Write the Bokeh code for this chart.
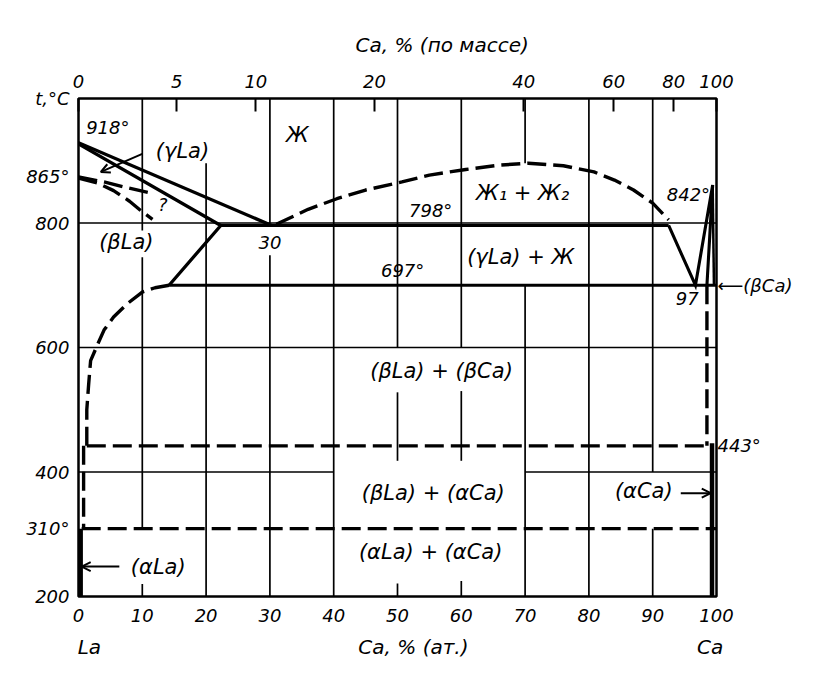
from bokeh.plotting import figure
from bokeh.models import (FixedTicker, LinearAxis, Range1d, Arrow, OpenHead)
from bokeh.core.properties import value
from bokeh.embed import file_html
from bokeh.resources import INLINE

FONT = "DejaVu Sans"

# ---------------- axis ticks ----------------
bottom_ticks = [0, 10, 20, 30, 40, 50, 60, 70, 80, 90, 100]
bottom_labels = ["0", "10", "20", "30", "40", "50", "60", "70", "80", "90", "100"]
bottom_row2_pos = [1.7, 52.5, 99]
bottom_row2_labels = ["La", "Ca, % (ат.)", "Ca"]
top_ticks = [0, 15.4, 27.8, 46.4, 69.8, 83.9, 93.3, 100]      # at.% of wt.% marks
top_labels = ["0", "5", "10", "20", "40", "60", "80", "100"]
top_row2_pos = [57]
top_row2_labels = ["Ca, % (по массе)"]
left_ticks = [200, 309, 400, 600, 800, 874, 1000]
left_labels = ["200", "310°", "400", "600", "800", "865°", "t,°C"]
right_ticks = [442, 700]
right_labels = ["443°", "⟵(βCa)"]

# ---------------- grid fragments (as drawn) ----------------
gv_x = [10, 10, 10, 20, 30, 30, 40, 50, 50, 50, 60, 60, 60, 70, 70, 80, 90, 90]
gv_t0 = [1000, 745, 220, 896, 1000, 748, 1000, 1000, 528, 221, 1000, 530, 225, 1000, 700, 1000, 1000, 309]
gv_t1 = [788, 309, 200, 200, 800, 200, 200, 600, 418, 200, 600, 418, 200, 896, 200, 200, 400, 200]
gh_t = [800, 600, 400, 400]
gh_x0 = [0, 0, 0, 70]
gh_x1 = [100, 100, 40, 100]

# ---------------- phase boundaries (solid) ----------------
liq_la_x = [0, 30.3]
liq_la_t = [929, 796]
sol_la_x = [0, 22.3, 14.2]
sol_la_t = [927, 796, 700]
eut_x = [22.3, 92.5]
eut_t = [796, 796]
mono_x = [14.2, 100]
mono_t = [700, 700]
ca_v_x = [92.5, 96.7, 99.4, 98.5]
ca_v_t = [796, 700, 861, 700]
ca_edge_x = [99.4, 99.6]
ca_edge_t = [861, 700]
ala_x = [0.3, 0.3]
ala_t = [309, 200]
aca_x = [99.3, 99.3]
aca_t = [446, 200]

# ---------------- phase boundaries (dashed) ----------------
dome_x = [31, 36, 40.5, 45, 50.7, 55, 60.7, 66, 70.5, 76, 80.8, 84, 87, 90, 92.5]
dome_t = [798, 822, 839, 853, 866, 877, 886, 893, 896, 892, 882, 869, 853, 832, 805]
g1_x = [0, 4, 7.5, 11.8]
g1_t = [874, 866, 857, 847]
g2_x = [0, 3, 5.5, 8, 10, 11.6]
g2_t = [872, 864, 852, 835, 818, 806]
bla_x = [1.3, 1.3, 1.6, 1.9, 3.0, 4.0, 5.5, 7.6, 10, 12, 14.2]
bla_t = [442, 500, 542, 579, 605, 628, 649, 670, 689, 696, 700]
iso443_x = [1.3, 99.3]
iso443_t = [442, 442]
iso310_x = [0.5, 100]
iso310_t = [309, 309]
abla_x = [0.8, 0.8]
abla_t = [442, 309]
bca_x = [98.5, 98.5]
bca_t = [700, 442]

# ---------------- labels ----------------
num_text = ["918°", "?", "30", "798°", "842°", "697°", "97"]
num_x = [4.6, 13.2, 30, 55.2, 95.6, 50.8, 95.4]
num_t = [953, 829, 769, 820, 845, 724, 678]
ph_text = ["(γLa)", "Ж", "(βLa)", "Ж₁ + Ж₂", "(γLa) + Ж", "(βLa) + (βCa)",
           "(βLa) + (αCa)", "(αLa) + (αCa)", "(αLa)", "(αCa)"]
ph_x = [16.3, 34.3, 7.5, 69.6, 69.3, 56.9, 55.6, 55.2, 12.5, 88.6]
ph_t = [916, 941, 770, 848, 746, 562, 367, 271, 248, 369]

arr_x0 = [10, 6.4, 94.4]
arr_t0 = [911, 248, 366]
arr_x1 = [3.5, 0.5, 99.1]
arr_t1 = [882, 248, 366]

p = figure(frame_width=638, frame_height=498,
           x_range=Range1d(0, 100), y_range=Range1d(200, 1000),
           output_backend="svg", toolbar_location=None, title=None,
           min_border_left=78, min_border_right=104,
           min_border_top=98, min_border_bottom=92)
p.xgrid.visible = False
p.ygrid.visible = False
p.outline_line_color = "black"
p.outline_line_width = 2.5
p.outline_line_alpha = 1.0
p.background_fill_color = "white"
p.border_fill_color = "white"


def style_axis(ax, ticks, labels, tick_in=0, standoff=9, size="18px"):
    ax.ticker = FixedTicker(ticks=ticks)
    ax.major_label_overrides = {t: l for t, l in zip(ticks, labels)}
    ax.axis_line_color = None
    ax.major_tick_in = tick_in
    ax.major_tick_out = 0
    ax.major_tick_line_color = "black"
    ax.major_tick_line_width = 2
    ax.minor_tick_line_color = None
    ax.major_label_text_font = FONT
    ax.major_label_text_font_style = "italic"
    ax.major_label_text_font_size = size
    ax.major_label_text_color = "black"
    ax.major_label_standoff = standoff


style_axis(p.xaxis[0], bottom_ticks, bottom_labels, 0, 12)
style_axis(p.yaxis[0], left_ticks, left_labels, 0, 9)

bottom2 = LinearAxis()
style_axis(bottom2, bottom_row2_pos, bottom_row2_labels, 0, 10, "20px")
bottom2.major_tick_line_color = None
p.add_layout(bottom2, "below")

top_axis = LinearAxis()
style_axis(top_axis, top_ticks, top_labels, 13, 11)
p.add_layout(top_axis, "above")

top2 = LinearAxis()
style_axis(top2, top_row2_pos, top_row2_labels, 0, 15, "20px")
top2.major_tick_line_color = None
p.add_layout(top2, "above")

right_axis = LinearAxis()
style_axis(right_axis, right_ticks, right_labels, 0, 1)
right_axis.major_tick_line_color = None
p.add_layout(right_axis, "right")

# grid
p.segment(x0=gv_x, y0=gv_t0, x1=gv_x, y1=gv_t1, line_color="black", line_width=1.7)
p.segment(x0=gh_x0, y0=gh_t, x1=gh_x1, y1=gh_t, line_color="black", line_width=1.7)

# solid boundaries
for xs, ts, w in [(liq_la_x, liq_la_t, 3.3), (sol_la_x, sol_la_t, 3.3),
                  (eut_x, eut_t, 3.1), (mono_x, mono_t, 3.1),
                  (ca_v_x, ca_v_t, 3.1), (ca_edge_x, ca_edge_t, 2.5),
                  (ala_x, ala_t, 5), (aca_x, aca_t, 4.5)]:
    p.line(xs, ts, line_color="black", line_width=w, line_join="miter")

# dashed boundaries
for xs, ts in [(dome_x, dome_t), (g1_x, g1_t), (g2_x, g2_t), (bla_x, bla_t),
               (iso443_x, iso443_t), (iso310_x, iso310_t), (abla_x, abla_t),
               (bca_x, bca_t)]:
    p.line(xs, ts, line_color="black", line_width=3.4, line_dash="19 7")

# labels inside the diagram
p.text(x=num_x, y=num_t, text=num_text, text_font=value(FONT),
       text_font_style="italic", text_font_size="18px", text_color="black",
       text_align="center", text_baseline="middle")
p.text(x=ph_x, y=ph_t, text=ph_text, text_font=value(FONT),
       text_font_style="italic", text_font_size="21px", text_color="black",
       text_align="center", text_baseline="middle")

# arrows
for xa, ta, xb, tb in zip(arr_x0, arr_t0, arr_x1, arr_t1):
    p.add_layout(Arrow(end=OpenHead(size=9, line_width=2, line_color="black"),
                       x_start=xa, y_start=ta, x_end=xb, y_end=tb,
                       line_width=2, line_color="black"))

open("out.html", "w").write(file_html(p, INLINE))
